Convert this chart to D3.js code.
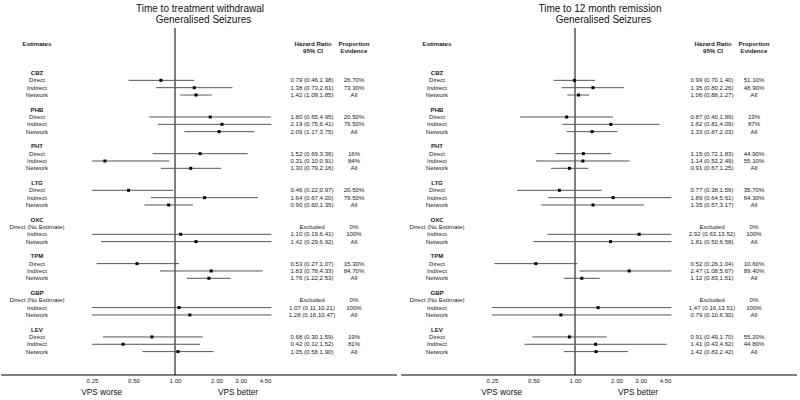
<!DOCTYPE html>
<html><head><meta charset="utf-8">
<script src="https://cdn.jsdelivr.net/npm/d3@7"></script>
<style>
html,body{margin:0;padding:0;background:#fff;}
svg{display:block;font-family:"Liberation Sans",Arial,sans-serif;}
</style></head>
<body>
<svg id="chart" width="800" height="400"></svg>
<script>
// ---- data ----
const categories = ["CBZ","PHB","PHT","LTG","OXC","TPM","GBP","LEV"];
const estimateTypes = ["Direct","Indirect","Network"];
const noEstimateLabel = "Direct (No Estimate)";
const tickValues = [0.25, 0.5, 1, 2, 3, 4.5];
const tickLabels = ["0.25","0.50","1.00","2.00","3.00","4.50"];
const panelTitles = [["Time to treatment withdrawal","Generalised Seizures"],["Time to 12 month remission","Generalised Seizures"]];

// Time to treatment withdrawal (rows: Direct, Indirect, Network); null = excluded
const withdrawalHR = [[0.79,1.38,1.42],[1.80,2.19,2.09],[1.52,0.31,1.30],[0.46,1.64,0.90],[null,1.10,1.42],[0.53,1.83,1.76],[null,1.07,1.28],[0.68,0.42,1.05]];
const withdrawalLo = [[0.46,0.73,1.09],[0.65,0.75,1.17],[0.69,0.10,0.79],[0.22,0.67,0.60],[null,0.19,0.29],[0.27,0.78,1.22],[null,0.11,0.16],[0.30,0.12,0.58]];
const withdrawalHi = [[1.38,2.61,1.85],[4.95,6.41,3.75],[3.36,0.91,2.16],[0.97,4.00,1.35],[null,6.41,6.92],[1.07,4.33,2.53],[null,10.21,10.47],[1.59,1.52,1.90]];
const withdrawalProp = [["26.70%","73.30%","All"],["20.50%","79.50%","All"],["16%","84%","All"],["20.50%","79.50%","All"],["0%","100%","All"],["15.30%","84.70%","All"],["0%","100%","All"],["19%","81%","All"]];

// Time to 12 month remission
const remissionHR = [[0.99,1.35,1.06],[0.87,1.82,1.33],[1.15,1.14,0.91],[0.77,1.89,1.35],[null,2.92,1.81],[0.52,2.47,1.12],[null,1.47,0.79],[0.91,1.41,1.42]];
const remissionLo = [[0.70,0.80,0.88],[0.40,0.81,0.87],[0.72,0.52,0.67],[0.38,0.64,0.57],[null,0.63,0.50],[0.26,1.08,0.83],[null,0.16,0.10],[0.49,0.43,0.83]];
const remissionHi = [[1.40,2.26,1.27],[1.89,4.09,2.03],[1.83,2.49,1.25],[1.56,5.61,3.17],[null,13.52,6.58],[1.04,5.67,1.51],[null,13.51,6.30],[1.70,4.62,2.42]];
const remissionProp = [["51.10%","48.90%","All"],["13%","87%","All"],["44.90%","55.10%","All"],["35.70%","64.30%","All"],["0%","100%","All"],["10.60%","89.40%","All"],["0%","100%","All"],["55.20%","44.80%","All"]];

const panels = [
  {dx:0, title:panelTitles[0], hr:withdrawalHR, lo:withdrawalLo, hi:withdrawalHi, prop:withdrawalProp},
  {dx:400, title:panelTitles[1], hr:remissionHR, lo:remissionLo, hi:remissionHi, prop:remissionProp}
];

// ---- drawing ----
const svg = d3.select("#chart");
const f2 = d3.format(".2f");
const x = d3.scaleLog().domain([0.25, 5]).range([92, 271.4]);
const y = d3.scaleLinear().domain([0, 42]).range([43.7, 351.6]);
const small = 6.1;
const textColor = "#222";

panels.forEach(p => {
  const g = svg.append("g").attr("transform", `translate(${p.dx},0)`);

  // titles
  g.append("text").attr("x",200).attr("y",8.5).attr("dy","0.35em").attr("text-anchor","middle")
    .attr("font-size",10).attr("fill","#111").text(p.title[0]);
  g.append("text").attr("x",203.5).attr("y",19.5).attr("dy","0.35em").attr("text-anchor","middle")
    .attr("font-size",10).attr("fill","#111").text(p.title[1]);

  // headers
  const hdr = (tx, row, s) => g.append("text").attr("x",tx).attr("y",y(row)).attr("dy","0.35em")
    .attr("text-anchor","middle").attr("font-size",small).attr("font-weight","bold").attr("fill",textColor).text(s);
  hdr(37,0,"Estimates");
  hdr(313,0,"Hazard Ratio"); hdr(313,1,"95% CI");
  hdr(354,0,"Proportion"); hdr(354,1,"Evidence");

  // reference line at 1
  g.append("line").attr("x1",x(1)).attr("x2",x(1)).attr("y1",28).attr("y2",375)
    .attr("stroke","#000").attr("stroke-width",1);

  // axis
  g.append("line").attr("x1",1).attr("x2",397).attr("y1",375).attr("y2",375)
    .attr("stroke","#000").attr("stroke-width",1);
  const axis = d3.axisBottom(x).tickValues(tickValues).tickSize(0).tickPadding(0)
    .tickFormat((d,i) => tickLabels[i]);
  const ax = g.append("g").attr("transform","translate(0,379)").call(axis);
  ax.select(".domain").remove();
  ax.selectAll("text").attr("font-size",small).attr("fill",textColor)
    .attr("font-family","Liberation Sans, Arial, sans-serif").attr("dy","0.71em");
  g.append("text").attr("x",101.7).attr("y",392).attr("dy","0.35em").attr("text-anchor","middle")
    .attr("font-size",8.3).attr("fill","#111").text("VPS worse");
  g.append("text").attr("x",238).attr("y",392).attr("dy","0.35em").attr("text-anchor","middle")
    .attr("font-size",8.3).attr("fill","#111").text("VPS better");

  const [dMin, dMax] = x.domain();
  categories.forEach((cat, ci) => {
    const base = 4 + ci*5;
    g.append("text").attr("x",37).attr("y",y(base)).attr("dy","0.35em").attr("text-anchor","middle")
      .attr("font-size",small).attr("font-weight","bold").attr("fill",textColor).text(cat);
    estimateTypes.forEach((et, ei) => {
      const row = base + 1 + ei;
      const hr = p.hr[ci][ei];
      const lab = (hr === null) ? noEstimateLabel : et;
      g.append("text").attr("x",37).attr("y",y(row)).attr("dy","0.35em").attr("text-anchor","middle")
        .attr("font-size",small).attr("fill",textColor).text(lab);
      const ciText = (hr === null) ? "Excluded" : `${f2(hr)} (${f2(p.lo[ci][ei])},${f2(p.hi[ci][ei])})`;
      g.append("text").attr("x",312).attr("y",y(row)).attr("dy","0.35em").attr("text-anchor","middle")
        .attr("font-size",small).attr("fill",textColor).text(ciText);
      g.append("text").attr("x",354).attr("y",y(row)).attr("dy","0.35em").attr("text-anchor","middle")
        .attr("font-size",small).attr("fill",textColor).text(p.prop[ci][ei]);
      if (hr !== null) {
        const lo = Math.max(dMin, p.lo[ci][ei]);
        const hi = Math.min(dMax, p.hi[ci][ei]);
        g.append("line").attr("x1",x(lo)).attr("x2",x(hi)).attr("y1",y(row)).attr("y2",y(row))
          .attr("stroke","#555").attr("stroke-width",1);
        g.append("rect").attr("x",x(hr)-1.5).attr("y",y(row)-1.5).attr("width",3).attr("height",3)
          .attr("fill","#000");
      }
    });
  });
});
</script>
</body></html>
